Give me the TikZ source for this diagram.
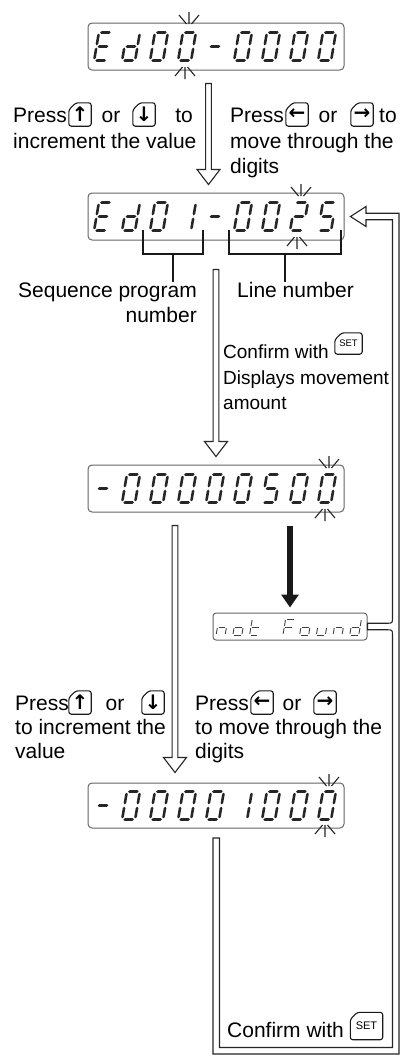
\documentclass[tikz,border=0pt]{standalone}
\usepackage{fontspec}
\setmainfont{Liberation Sans}
\newfontfamily\arrowfont{DejaVu Sans}
\usetikzlibrary{calc,arrows.meta}
\makeatletter
\newcommand\ifsegin[3]{\edef\segtmp{\noexpand\in@{#1}{#2}}\segtmp\ifin@ #3\fi}
\makeatother
\newcommand\segh{1.3}
\newcommand\hsegm[3]{\fill (#1,#3) -- (#1+\segh,#3-\segh) -- (#2-\segh,#3-\segh) -- (#2,#3) -- (#2-\segh,#3+\segh) -- (#1+\segh,#3+\segh) -- cycle;}
\newcommand\vsegm[3]{\fill (#1,#2) -- (#1+\segh,#2+\segh) -- (#1+\segh,#3-\segh) -- (#1,#3) -- (#1-\segh,#3-\segh) -- (#1-\segh,#2+\segh) -- cycle;}
\newcommand\sevdigit[3]{%
\begin{scope}[shift={(#1,#2)},xslant=0.17,fill=black!85]
\ifsegin{a}{#3}{\hsegm{-5.3}{5.3}{-14}}%
\ifsegin{b}{#3}{\vsegm{6.5}{-12.8}{-1.2}}%
\ifsegin{c}{#3}{\vsegm{6.5}{1.2}{12.8}}%
\ifsegin{d}{#3}{\hsegm{-5.3}{5.3}{14}}%
\ifsegin{e}{#3}{\vsegm{-6.5}{1.2}{12.8}}%
\ifsegin{f}{#3}{\vsegm{-6.5}{-12.8}{-1.2}}%
\ifsegin{g}{#3}{\hsegm{-5.3}{5.3}{0}}%
\end{scope}}
\newcommand\sevrow[2]{\foreach \s [count=\i from 0] in {#2} {\sevdigit{103+28*\i}{#1}{\s}}}
\newcommand\thindigit[3]{%
\begin{scope}[shift={(#1,#2)},xslant=0.17]
\ifsegin{a}{#3}{\draw[thinseg] (-3.4,-8)--(3.4,-8);}%
\ifsegin{b}{#3}{\draw[thinseg] (4.5,-6.9)--(4.5,-1);}%
\ifsegin{c}{#3}{\draw[thinseg] (4.5,1)--(4.5,6.9);}%
\ifsegin{d}{#3}{\draw[thinseg] (-3.4,8)--(3.4,8);}%
\ifsegin{e}{#3}{\draw[thinseg] (-4.5,1)--(-4.5,6.9);}%
\ifsegin{f}{#3}{\draw[thinseg] (-4.5,-6.9)--(-4.5,-1);}%
\ifsegin{g}{#3}{\draw[thinseg] (-3.4,0)--(3.4,0);}%
\end{scope}}
\newcommand\blinkup[2]{\draw[burst] (#1,#2-2)--(#1,#2-14) (#1-2.5,#2-2)--(#1-10,#2-11) (#1+2.5,#2-2)--(#1+10,#2-11);}
\newcommand\blinkdn[2]{\draw[burst] (#1,#2+2)--(#1,#2+14) (#1-2.5,#2+2)--(#1-10,#2+11) (#1+2.5,#2+2)--(#1+10,#2+11);}
\newcommand\arHS{2.9pt}
\newcommand\arHW{11.5pt}
\newcommand\arHL{15pt}
\newcommand\hollowdown[2]{\draw[hollow] let \p1=(#1), \p2=(#2) in
  (\x1-\arHS,\y1) -- (\x1+\arHS,\y1) -- (\x1+\arHS,\y2+\arHL) -- (\x1+\arHW,\y2+\arHL)
  -- (\x1,\y2) -- (\x1-\arHW,\y2+\arHL) -- (\x1-\arHS,\y2+\arHL) -- cycle;}
\begin{document}
\begin{tikzpicture}[x=1pt,y=-1pt,
  txt/.style={font=\fontsize{21}{25}\selectfont, inner sep=0pt},
  txts/.style={font=\fontsize{19}{23}\selectfont, inner sep=0pt},
  disp/.style={draw=black!60, line width=1pt, rounded corners=4pt, inner sep=0pt, minimum width=256pt, minimum height=47pt},
  key/.style={minimum width=22pt, minimum height=23pt, inner sep=0pt, font=\arrowfont\bfseries\fontsize{20}{20}\selectfont},
  setkey/.style={minimum width=27pt, minimum height=21pt, inner sep=0pt, font=\fontsize{9.5}{9.5}\selectfont},
  keyline/.style={draw=black!90, line width=1.1pt, rounded corners=2.5pt},
  hollow/.style={draw=black!85, fill=white, line width=1.1pt, line join=miter},
  brk/.style={line width=2.4pt, black!90, line join=miter},
  burst/.style={line width=1.1pt, black!85},
  thinseg/.style={line width=0.9pt, black!75},
  blk/.style={line width=6pt, black!90, -{Triangle[length=13pt,width=17pt]}},
  ]
\useasboundingbox (0,0) rectangle (406,1055);

% displays
\node[disp] (d1) at (216,46.5) {};
\node[disp] (d2) at (216,216.5) {};
\node[disp] (d3) at (216,488.5) {};
\node[disp, minimum height=45pt] (d4) at (216,805.5) {};
\node[disp, minimum width=154pt, minimum height=27pt, rounded corners=3pt] (nf) at (290,626.5) {};

% digits
\sevrow{46.5}{adefg,bcdeg,abcdef,abcdef,g,abcdef,abcdef,abcdef,abcdef}
\sevrow{216.5}{adefg,bcdeg,abcdef,bc,g,abcdef,abcdef,abdeg,acdfg}
\sevrow{488.5}{g,abcdef,abcdef,abcdef,abcdef,abcdef,acdfg,abcdef,abcdef}
\sevrow{805.5}{g,abcdef,abcdef,abcdef,abcdef,bc,abcdef,abcdef,abcdef}
\foreach \s [count=\i from 0] in {ceg,cdeg,defg,x,aefg,cdeg,cde,ceg,bcdeg} {\thindigit{222+16.7*\i}{627}{\s}}

% blink marks
\blinkup{189}{26}\blinkdn{185}{65}
\blinkup{301}{198}\blinkdn{297}{235}
\blinkup{329}{470}\blinkdn{325}{507}
\blinkup{329}{788}\blinkdn{325}{823}

% brackets
\draw[brk] (143,230) -- (143,254) -- (203,254) -- (203,230);
\draw[brk] (229,230) -- (229,254) -- (341,254) -- (341,230);
\coordinate (bs1) at (173,254);
\coordinate (bs2) at (285,254);
\node[txt, anchor=base east] (sp1) at (197,297) {Sequence program};
\node[txt, anchor=base east] (sp2) at (197,322) {number};
\node[txt, anchor=base west] (ln) at (237,297) {Line number};
\draw[brk] (bs1) -- (bs1 |- sp1.north);
\draw[brk] (bs2) -- (bs2 |- ln.north);

% hollow arrows
\coordinate (a1s) at ($(d1.south)+(-7.5,13)$);
\coordinate (a1e) at ($(d2.north)+(-7.5,-8)$);
\coordinate (a2s) at ($(d2.south)+(0,29)$);
\coordinate (a2e) at ($(d3.north)+(0,-8)$);
\coordinate (a3s) at ($(d3.south)+(-41,13)$);
\coordinate (a3e) at ($(d4.north)+(-41,-10)$);
\hollowdown{a1s}{a1e}
\hollowdown{a2s}{a2e}
\hollowdown{a3s}{a3e}

% black arrow
\draw[blk, shorten <=13pt, shorten >=5pt] (d3.south -| nf.north) -- (nf.north);

% return loop
\coordinate (lpt) at ($(d2.east)+(6,0)$);
\draw[hollow] (213,838) -- (213,1054) -- (399,1054) -- (399,213.25) -- (366,213.25) -- (366,206.5)
  -- (lpt) -- (366,226.5) -- (366,219.75) -- (392.5,219.75) -- (392.5,617.25)
  .. controls (392.5,623.25) .. (386.5,623.25) -- (nf.east |- 0,623.25) -- (nf.east |- 0,629.75)
  -- (386.5,629.75) .. controls (392.5,629.75) .. (392.5,635.75)
  -- (392.5,1047.5) -- (219.5,1047.5) -- (219.5,838) -- cycle;

% upper texts
\node[txt, anchor=base west] (u1) at (13,122) {Press};
\node[key] (ku1) at (80,114.5) {↑};
\node[txt, anchor=base] (u2) at (111,122) {or};
\node[key] (ku2) at (144,114.5) {↓};
\node[txt, anchor=base east] (u3) at (193,122) {to};
\node[txt, anchor=base west] (u4) at (13,148) {increment the value};
\node[txt, anchor=base west] (r1) at (230,122) {Press};
\node[key] (kr1) at (297,114.5) {←};
\node[txt, anchor=base] (r2) at (328,122) {or};
\node[key] (kr2) at (362,114.5) {→};
\node[txt, anchor=base west] (r3) at (379,122) {to};
\node[txt, anchor=base west] (r4) at (230,148) {move through the};
\node[txt, anchor=base west] (r5) at (230,173) {digits};

% middle texts
\node[txts, anchor=base west] (c1) at (223,358) {Confirm with};
\node[setkey] (ks1) at (348.5,343.5) {SET};
\node[txts, anchor=base west] (c2) at (223,384) {Displays movement};
\node[txts, anchor=base west] (c3) at (223,409) {amount};

% lower texts
\node[txt, anchor=base west] (l1) at (15,710) {Press};
\node[key] (kl1) at (80,702.5) {↑};
\node[txt, anchor=base] (l2) at (115,710) {or};
\node[key] (kl2) at (153,702.5) {↓};
\node[txt, anchor=base west] (l3) at (15,734) {to increment the};
\node[txt, anchor=base west] (l4) at (15,758) {value};
\node[txt, anchor=base west] (m1) at (195,710) {Press};
\node[key] (km1) at (262,702.5) {←};
\node[txt, anchor=base] (m2) at (292,710) {or};
\node[key] (km2) at (325,702.5) {→};
\node[txt, anchor=base west] (m3) at (195,734) {to move through the};
\node[txt, anchor=base west] (m4) at (195,758) {digits};

% bottom text
\node[txt, anchor=base west] (b1) at (227,1037) {Confirm with};
\node[setkey, minimum width=32pt, minimum height=27pt, font=\fontsize{11}{11}\selectfont] (ks2) at (366.5,1026) {SET};

% key outlines
\foreach \k in {ku1,ku2,kr1,kr2,kl1,kl2,km1,km2,ks1,ks2}
  \draw[keyline] ([xshift=7pt]\k.north west) -- (\k.north east) -- (\k.south east) -- (\k.south west) -- ([yshift=-7pt]\k.north west) -- cycle;
\end{tikzpicture}
\end{document}
